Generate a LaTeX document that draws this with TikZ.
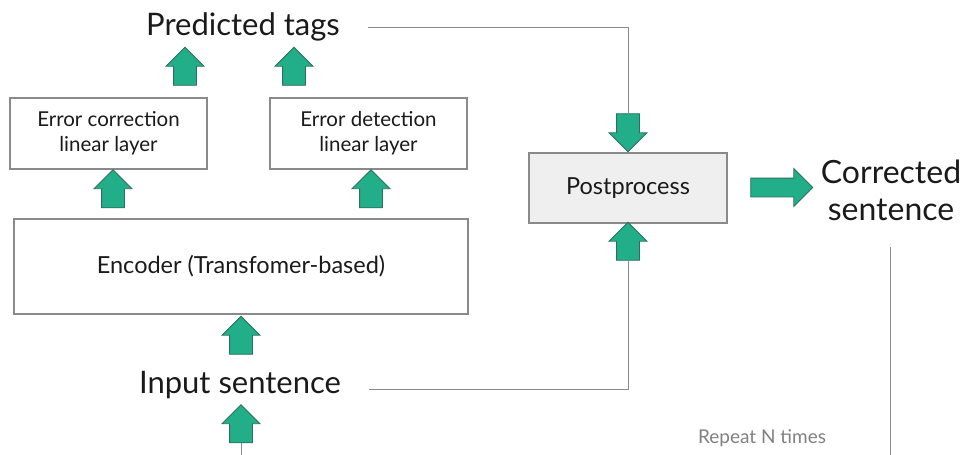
\documentclass[tikz,border=0pt]{standalone}
\usepackage{fontspec}
\setmainfont{Lato}
\usetikzlibrary{shapes.arrows}
\definecolor{arrowgreen}{RGB}{34,174,136}
\definecolor{arrowedge}{RGB}{44,112,92}
\definecolor{boxedge}{RGB}{138,138,138}
\definecolor{postfill}{RGB}{239,239,239}
\definecolor{inktext}{RGB}{26,26,26}
\definecolor{repgray}{RGB}{128,128,128}
\begin{document}
\begin{tikzpicture}[x=1pt,y=-1pt,
	blockarrow/.style={single arrow,draw=arrowedge,fill=arrowgreen,line width=0.8pt,
		minimum height=38pt,minimum width=37pt,single arrow head extend=7.5pt,
		inner xsep=0pt,inner ysep=11pt},
	layerbox/.style={draw=boxedge,line width=1.2pt,text=inktext,align=center,
		font=\fontsize{20.5}{25}\selectfont,inner sep=0pt},
	bigtext/.style={text=inktext,align=center,font=\fontsize{31}{37}\selectfont},
	link/.style={draw=boxedge,line width=1pt}]
			\useasboundingbox (0,0) rectangle (961,455);

			\node[layerbox,minimum width=197pt,minimum height=71pt] (ecor) at (108.5,133.5) {Error correction\\linear layer};
			\node[layerbox,minimum width=197pt,minimum height=71pt] (edet) at (368.5,133.5) {Error detection\\linear layer};
			\node[layerbox,font=\fontsize{23.5}{28}\selectfont,minimum width=454pt,minimum height=95pt] (enc) at (241,266.5) {Encoder (Transfomer-based)};
			\node[layerbox,font=\fontsize{23.5}{28}\selectfont,fill=postfill,minimum width=198pt,minimum height=70pt] (post) at (628,188) {Postprocess};

			\node[bigtext] (pred) at (243,27) {Predicted tags};
			\node[bigtext] (inp) at (240,385) {Input sentence};
			\node[bigtext,font=\fontsize{32}{37}\selectfont] (corr) at (891,190) {Corrected\\sentence};
			\node[text=repgray,font=\fontsize{19}{22}\selectfont] (rep) at (762,438) {Repeat N times};

			\node[blockarrow,rotate=90] (a1) at (185,72) {};
			\node[blockarrow,rotate=90] (a2) at (294,72) {};
			\node[blockarrow,rotate=90] (a3) at (113,194.5) {};
			\node[blockarrow,rotate=90] (a4) at (371,194.5) {};
			\node[blockarrow,rotate=90] (a5) at (241,341) {};
			\node[blockarrow,rotate=90] (a6) at (241,429.5) {};
			\node[blockarrow,rotate=-90] (a7) at (628,127) {};
			\node[blockarrow,rotate=90] (a8) at (628,247) {};
			\node[blockarrow,minimum height=62pt,inner ysep=9pt,single arrow head extend=9.5pt] (a9) at (777,187.5) {};

			\coordinate (bot) at (241,455);
			\coordinate (rtop) at (890,247);
			\coordinate (rbot) at (890,455);

			\draw[link] ([xshift=25pt]pred.east) -| (a7.tail);
			\draw[link] ([xshift=25pt,yshift=-4pt]inp.east) -| (a8.tail);
			\draw[link] (a6.tail) -- (bot);
			\draw[link] (rtop) -- (rbot);
			\end{tikzpicture}
\end{document}
